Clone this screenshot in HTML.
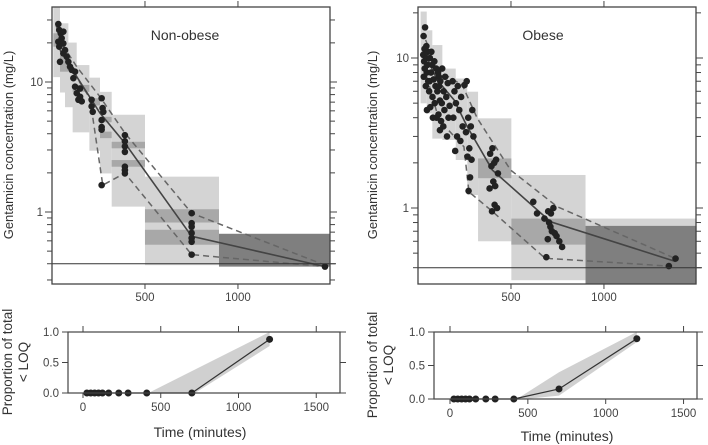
<!DOCTYPE html>
<html><head><meta charset="utf-8"><style>
body{margin:0;background:#fff;}
svg{display:block;font-family:"Liberation Sans",sans-serif;}
</style></head><body>
<svg id="chart" width="708" height="445" viewBox="0 0 708 445" xmlns="http://www.w3.org/2000/svg"></svg>
<script>
// ---------- data: Non-obese ----------
const binT0_L = [7,43,70,111,201,258,321,500,898];
const binT1_L = [43,88,133,201,258,321,500,898,1494];
const binLo_L = [10.9,8.3,6.4,4.1,2.96,1.98,1.1,0.39,0.38];
const binHi_L = [37.8,28.3,20.1,13.5,10.8,8.4,5.6,1.87,0.68];
const bandBin_L = [0,1,3,4,5,5,6,6,7,7];
const bandLo_L = [18.7,12.0,8.4,6.6,4.9,3.7,3.09,2.23,0.83,0.56];
const bandHi_L = [23.7,17.6,9.5,7.5,5.4,4.15,3.47,2.51,1.05,0.73];
const medT_L = [43,133,258,392,751,1468];
const medC_L = [17.6,10.98,5.77,3.39,0.65,0.38];
const upT_L = [23,52,133,258,392,751,1468];
const upC_L = [27,19.8,13.1,7.7,4.05,0.98,0.39];
const loT_L = [23,113,204,273,392,751,1468];
const loC_L = [27,12,7.5,1.61,1.99,0.47,0.38];
const obsT_L = [34,39,47,61,52,34,61,39,70,61,43,79,88,97,106,124,115,124,133,151,142,151,160,213,213,219,267,272,276,267,267,267,267,392,392,392,392,392,392,392,751,751,751,751,751,751,751,1468];
const obsC_L = [27.9,25.1,23.7,24.4,21.7,20.4,19.8,18.7,17.6,16.6,14.3,15.7,14.3,13.1,12.4,12.0,10.7,9.2,8.2,7.7,7.3,8.9,7.1,7.3,6.5,5.9,7.5,6.3,5.9,5.1,4.5,4.3,1.61,3.9,3.5,3.2,2.9,2.23,2.1,1.98,0.98,0.82,0.77,0.69,0.63,0.59,0.47,0.38];
// ---------- data: Obese ----------
const binT0_R = [14,47,77,131,203,265,323,502,901];
const binT1_R = [47,77,131,203,265,323,502,901,1498];
const binLo_R = [4.99,4.27,2.9,2.84,2.09,1.22,0.60,0.33,0.31];
const binHi_R = [20.4,15.3,12.2,8.5,7.3,5.96,3.96,1.66,0.85];
const bandBin_R = [6,7,8];
const bandLo_R = [1.58,0.57,0.31];
const bandHi_R = [2.14,0.85,0.76];
const medT_R = [50,104,194,265,400,713,1385];
const medC_R = [9.95,7.1,5.25,3.48,1.79,0.81,0.44];
const upT_R = [41,104,238,319,498,749,1385];
const upC_R = [13.2,8.3,6.6,3.96,1.79,1.02,0.46];
const loT_R = [32,113,247,274,391,677,713,1349];
const loC_R = [8.75,3.86,2.56,1.28,0.97,0.47,0.46,0.41];
const obsT_R = [38,30,45,35,52,28,44,33,50,36,47,31,55,42,60,48,66,80,
 72,64,88,76,98,70,112,84,62,94,104,78,118,90,100,124,
 130,108,146,120,160,114,138,152,128,170,142,110,164,136,118,156,
 186,214,196,232,204,222,190,240,210,228,200,
 262,250,292,270,284,258,298,276,266,288,280,272,
 400,388,420,410,395,430,405,415,385,412,425,398,
 620,640,680,700,715,728,705,712,720,735,745,698,760,775,690,1385,1349];
const obsC_R = [16,14,12,11.5,11,10.5,10,9.5,9,8.5,8,7.5,7,6.5,6,4.5,4.7,4.0,
 11,10,9.5,9,8.5,8,7.5,7.2,7,6.5,6,5.5,5.2,5,4,3.8,
 8.5,8,7.5,7,6.8,6.5,6,5.5,5,4.8,4.5,4.2,4,3.5,3.3,3,
 7,6.5,6,5.5,5,4.5,4,3.5,3,2.8,2.4,
 7,6.6,4.5,4,3.5,3.2,3,2.5,2.2,2.1,1.6,1.3,
 2.5,2.3,2.1,2,1.9,1.7,1.5,1.4,1.35,1.05,1.0,0.95,
 1.1,0.92,0.85,0.95,0.92,1.0,0.8,0.75,0.7,0.68,0.65,0.62,0.6,0.55,0.47,0.46,0.41];
// ---------- data: proportion < LOQ ----------
const blqT = [25,50,75,100,125,165,230,290,410,700,1200];
const blqP_L = [0,0,0,0,0,0,0,0,0,0,0.88];
const blqP_R = [0,0,0,0,0,0,0,0,0,0.15,0.90];
const ciT_L = [420,1200,1200,720,450];
const ciP_L = [0,1.0,0.77,0,0];
const ciT_R = [430,700,1200,1200,700,480];
const ciP_R = [0,0.4,1.0,0.85,0.05,0];
const xTicks = [0,500,1000,1500];
const yTicksP = [0,0.5,1.0];
const loq = 0.4;

const NS="http://www.w3.org/2000/svg";
const svg=document.getElementById('chart');
function mk(tag,attrs,parent){const e=document.createElementNS(NS,tag);for(const k in attrs)e.setAttribute(k,attrs[k]);(parent||svg).appendChild(e);return e;}

function topPanel(o){
  const g=mk('g',{});
  
  
  const X=t=>o.x0+(t/1495)*(o.x1-o.x0);
  const Y=c=>o.y10+(1-Math.log10(c))*o.dec;
  o.bT0.forEach((t,i)=>{
    const r=mk('rect',{x:X(t),y:Y(o.bHi[i]),width:X(o.bT1[i])-X(t),height:Y(o.bLo[i])-Y(o.bHi[i]),fill:i===8&&o.lastDark?'#7f7f7f':'#d4d4d4'},g);
    
    
  });
  o.bandBin.forEach((b,i)=>{
    const last=b===8;
    const r=mk('rect',{x:X(o.bT0[b]),y:Y(o.bandHi[i]),width:X(o.bT1[b])-X(o.bT0[b]),height:Y(o.bandLo[i])-Y(o.bandHi[i]),fill:last?'#7f7f7f':'#a8a8a8'},g);
    
    
  });
  const line=(T,C,dash,name,col,w)=>{const p=mk('polyline',{points:T.map((t,i)=>X(t)+','+Y(C[i])).join(' '),fill:'none',stroke:col,'stroke-width':w,'stroke-dasharray':dash},g);
    
    };
  line(o.upT,o.upC,'6,4','observed-95th-line','#666',1.5);
  line(o.loT,o.loC,'6,4','observed-5th-line','#666',1.5);
  line(o.medT,o.medC,'none','observed-median-line','#444',1.6);
  o.oT.forEach((t,i)=>{const c=mk('circle',{cx:X(t),cy:Y(o.oC[i]),r:3.3,fill:'#222'},g);
    
    });
  const lq=mk('line',{x1:o.x0,x2:o.x1+6,y1:Y(loq),y2:Y(loq),stroke:'#333','stroke-width':1},g);
  
  
  mk('rect',{x:o.x0,y:o.yt,width:o.x1-o.x0,height:o.yb-o.yt,fill:'none',stroke:'#444','stroke-width':1.3},g);
  [500,1000].forEach(t=>{
    mk('line',{x1:X(t),x2:X(t),y1:o.yb,y2:o.yb+5,stroke:'#444'},g);
    mk('line',{x1:X(t),x2:X(t),y1:o.yt,y2:o.yt-6,stroke:'#444'},g);
    const tx=mk('text',{x:X(t),y:o.yb+17,'text-anchor':'middle','font-size':11.5,fill:'#444'},g);tx.textContent=t;
    
    
  });
  for(let d=-1;d<=1;d++)for(let m=1;m<10;m++){const c=m*Math.pow(10,d);const y=Y(c);if(y<o.yt-0.5||y>o.yb+0.5)continue;
    const L=m===1?7:5;
    mk('line',{x1:o.x0-L,x2:o.x0,y1:y,y2:y,stroke:'#444'},g);
    mk('line',{x1:o.x1,x2:o.x1+L,y1:y,y2:y,stroke:'#444'},g);
    if(m===1){const tx=mk('text',{x:o.x0-9,y:y+4,'text-anchor':'end','font-size':11.5,fill:'#444'},g);tx.textContent=c;
      
      }
  }
  const tt=mk('text',{x:o.tx,y:o.ty,'text-anchor':'middle','font-size':14,fill:'#333'},g);tt.textContent=o.title;
  
  
  const yt=mk('text',{x:0,y:0,transform:`translate(${o.ytx},${o.yty}) rotate(-90)`,'text-anchor':'middle','font-size':13,fill:'#333'},g);yt.textContent='Gentamicin concentration (mg/L)';
  
  
}

function botPanel(o){
  const g=mk('g',{});
  
  
  const X=t=>o.xz+t*o.k;
  const Y=p=>o.yb-p*(o.yb-o.yt);
  const pg=mk('polygon',{points:o.ciT.map((t,i)=>X(t)+','+Y(o.ciP[i])).join(' '),fill:'#d0d0d0'},g);
  
  
  const pl=mk('polyline',{points:blqT.map((t,i)=>X(t)+','+Y(o.P[i])).join(' '),fill:'none',stroke:'#333','stroke-width':1.2},g);
  
  
  blqT.forEach((t,i)=>{const c=mk('circle',{cx:X(t),cy:Y(o.P[i]),r:3.5,fill:'#222'},g);
    
    });
  mk('rect',{x:o.x0,y:o.yt,width:o.x1-o.x0,height:o.yb-o.yt,fill:'none',stroke:'#444','stroke-width':1.2},g);
  xTicks.forEach(t=>{
    mk('line',{x1:X(t),x2:X(t),y1:o.yb,y2:o.yb+5,stroke:'#444'},g);
    mk('line',{x1:X(t),x2:X(t),y1:o.yt,y2:o.yt-6,stroke:'#444'},g);
    const tx=mk('text',{x:X(t),y:o.yb+18,'text-anchor':'middle','font-size':11.5,fill:'#444'},g);tx.textContent=t;
    
    
  });
  yTicksP.forEach(p=>{
    mk('line',{x1:o.x0-6,x2:o.x0,y1:Y(p),y2:Y(p),stroke:'#444'},g);
    mk('line',{x1:o.x1,x2:o.x1+6,y1:Y(p),y2:Y(p),stroke:'#444'},g);
    const tx=mk('text',{x:o.x0-9,y:Y(p)+4,'text-anchor':'end','font-size':11.5,fill:'#444'},g);tx.textContent=p.toFixed(1);
    
    
  });
  const xt=mk('text',{x:o.xtx,y:o.xty,'text-anchor':'middle','font-size':14,fill:'#333'},g);xt.textContent='Time (minutes)';
  
  
  const y1=mk('text',{x:0,y:0,transform:`translate(${o.ytx},${o.yty}) rotate(-90)`,'text-anchor':'middle','font-size':13.5,fill:'#333'},g);y1.textContent='Proportion of total';
  
  
  const y2=mk('text',{x:0,y:0,transform:`translate(${o.ytx+16},${o.yty}) rotate(-90)`,'text-anchor':'middle','font-size':13.5,fill:'#333'},g);y2.textContent='< LOQ';
  
  
}

topPanel({name:'non-obese-vpc-panel',x0:52,x1:330,yt:7,yb:284,y10:82,dec:130,bT0:binT0_L,bT1:binT1_L,bLo:binLo_L,bHi:binHi_L,lastDark:true,
  bandBin:bandBin_L,bandLo:bandLo_L,bandHi:bandHi_L,medT:medT_L,medC:medC_L,upT:upT_L,upC:upC_L,loT:loT_L,loC:loC_L,oT:obsT_L,oC:obsC_L,
  title:'Non-obese',tx:185,ty:40,ytx:13,yty:145});
topPanel({name:'obese-vpc-panel',x0:418,x1:696,yt:7,yb:284,y10:58,dec:150,bT0:binT0_R,bT1:binT1_R,bLo:binLo_R,bHi:binHi_R,lastDark:false,
  bandBin:bandBin_R,bandLo:bandLo_R,bandHi:bandHi_R,medT:medT_R,medC:medC_R,upT:upT_R,upC:upC_R,loT:loT_R,loC:loC_R,oT:obsT_R,oC:obsC_R,
  title:'Obese',tx:543,ty:40,ytx:377,yty:145});
botPanel({name:'non-obese-blq-panel',x0:68,x1:340,yt:332,yb:393,xz:83,k:0.1555,P:blqP_L,ciT:ciT_L,ciP:ciP_L,xtx:200,xty:437,ytx:12,yty:362});
botPanel({name:'obese-blq-panel',x0:434,x1:697,yt:332,yb:399,xz:450,k:0.1557,P:blqP_R,ciT:ciT_R,ciP:ciP_R,xtx:567,xty:441,ytx:377,yty:365});
</script>
</body></html>
